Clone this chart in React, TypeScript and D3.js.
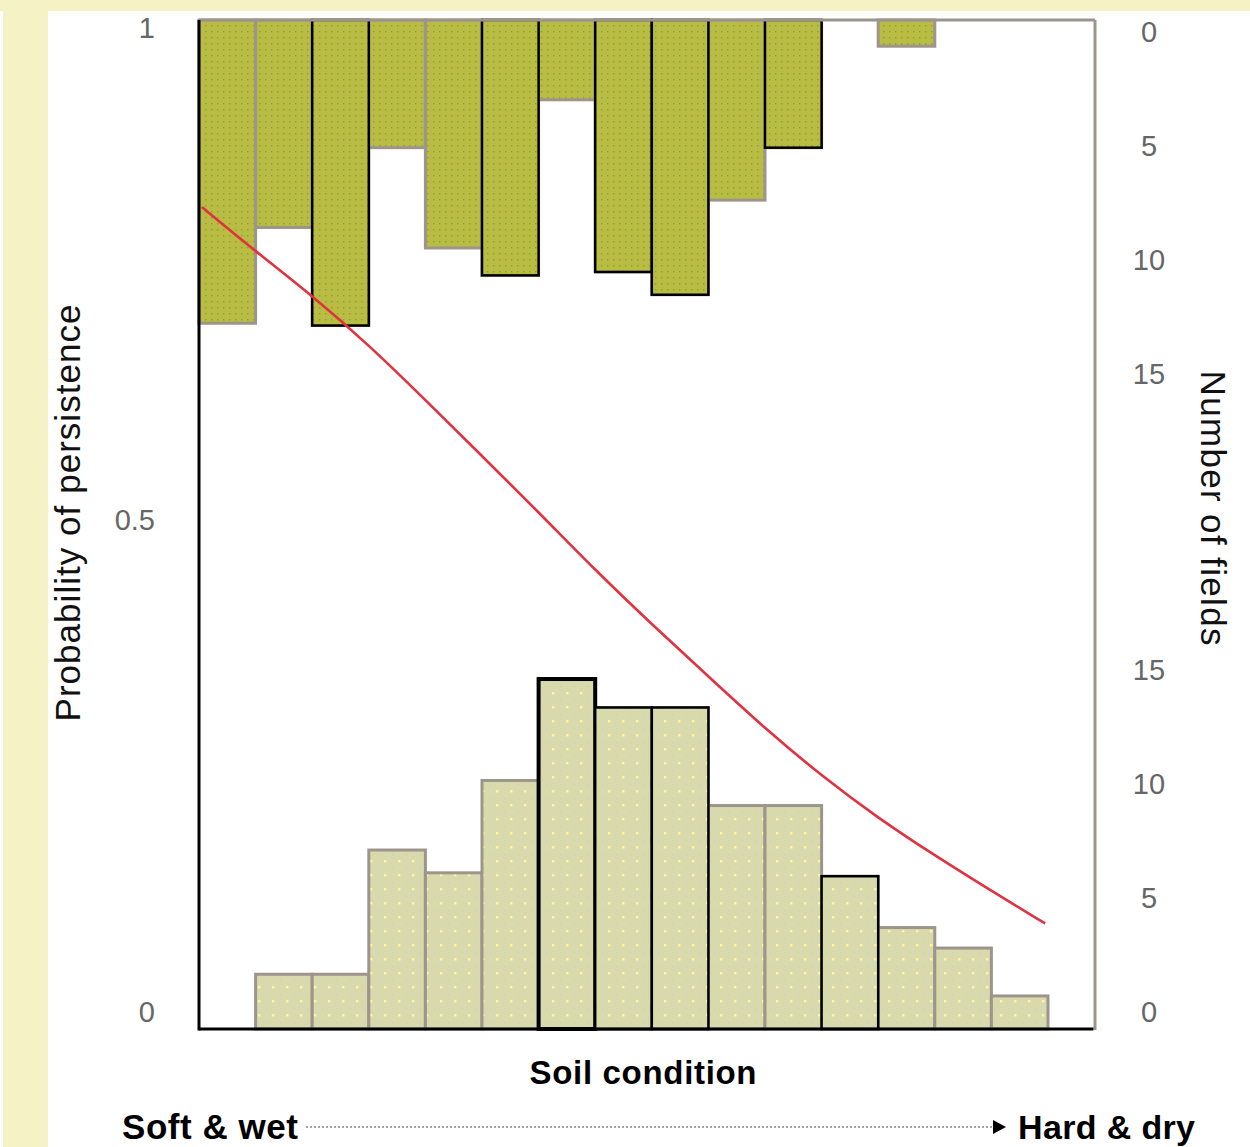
import React from "react";
import * as d3 from "d3";

// ---- data ----
const binIndex = d3.range(15);
// number of fields per soil-condition bin, hanging from top (persisting fields)
const topCounts = [13.3, 9.1, 13.4, 5.6, 10.0, 11.2, 3.5, 11.05, 12.05, 7.9, 5.6, 0, 1.15, 0, 0];
// number of fields per bin, rising from bottom (all fields)
const bottomCounts = [0, 2.4, 2.4, 7.85, 6.85, 10.9, 15.35, 14.1, 14.1, 9.8, 9.8, 6.7, 4.45, 3.55, 1.45];
// fitted probability of persistence curve
const curveX = [0.05, 1, 2, 3, 4, 5, 6, 7, 8, 9, 10, 11, 12, 13, 14, 14.95];
const curveP = [0.818, 0.773, 0.728, 0.678, 0.622, 0.565, 0.508, 0.449, 0.394, 0.341, 0.288, 0.24, 0.197, 0.159, 0.123, 0.09];
const probTicks = [0, 0.5, 1];
const probTickLabels = ["0", "0.5", "1"];
const countTicks = [0, 5, 10, 15];

// outline emphasis (style lists, kept apart from the values)
const topBlack = [2, 5, 7, 8, 10];
const bottomBlack = [7, 8, 11, 6];

const W = 1250;
const H = 1147;
const plotL = 199;
const plotR = 1095;
const plotT = 20;
const plotB = 1029;

const FONT = "'Liberation Sans', Arial, Helvetica, sans-serif";

export default function App() {
  const x = d3.scaleLinear().domain([0, 15]).range([199, 1048]);
  const yTop = d3.scaleLinear().domain([0, 20]).range([plotT, plotT + 456]);
  const yBot = d3.scaleLinear().domain([0, 20]).range([plotB, plotB - 456]);
  const yP = d3.scaleLinear().domain([0, 1]).range([1012, 28]);

  const line = d3
    .line<number>()
    .x((_, i) => x(curveX[i]))
    .y((d) => yP(d))
    .curve(d3.curveBasis);

  const gray = "#9d958b";

  const topBar = (i: number, black: boolean) => {
    const v = topCounts[i];
    if (v <= 0) return null;
    return (
      <rect
        key={"t" + i + black}
        x={x(i)}
        y={yTop(0)}
        width={x(i + 1) - x(i)}
        height={yTop(v) - yTop(0)}
        fill="url(#topPat)"
        stroke={black ? "#000" : gray}
        strokeWidth={black ? 2.5 : 3}
      />
    );
  };
  const botBar = (i: number, black: boolean) => {
    const v = bottomCounts[i];
    if (v <= 0) return null;
    return (
      <rect
        key={"b" + i + black}
        x={x(i)}
        y={yBot(v)}
        width={x(i + 1) - x(i)}
        height={yBot(0) - yBot(v)}
        fill="url(#botPat)"
        stroke={black ? "#000" : gray}
        strokeWidth={black ? (i === 6 ? 4 : 2.5) : 3}
      />
    );
  };

  return (
    <svg
      width={W}
      height={H}
      viewBox={`0 0 ${W} ${H}`}
      style={{ position: "absolute", left: 0, top: 0, display: "block" }}
    >
      <defs>
        <pattern id="topPat" width="6" height="6" patternUnits="userSpaceOnUse">
          <rect width="6" height="6" fill="#b7bd3e" />
          <rect x="1" y="1" width="1.4" height="1.4" fill="#8d9a55" />
          <rect x="4" y="4" width="1.4" height="1.4" fill="#cdb165" />
        </pattern>
        <pattern id="botPat" width="14" height="14" patternUnits="userSpaceOnUse">
          <rect width="14" height="14" fill="#d9d9ae" />
          <rect x="6" y="6" width="2.4" height="2.4" fill="#fff79a" />
          <rect x="0" y="0" width="1.2" height="1.2" fill="#c9d2a8" />
        </pattern>
      </defs>

      <rect x={0} y={0} width={W} height={H} fill="#ffffff" />
      <rect x={0} y={0} width={W} height={11} fill="#f5f3c6" />
      <rect x={3} y={0} width={45} height={H} fill="#f5f3c6" />

      {/* bars */}
      {binIndex.map((i) => topBar(i, false))}
      {binIndex.filter((i) => topBlack.includes(i)).map((i) => topBar(i, true))}
      {binIndex.map((i) => botBar(i, false))}
      {binIndex.filter((i) => bottomBlack.includes(i)).map((i) => botBar(i, true))}

      {/* frame */}
      <line x1={plotL} x2={plotR} y1={plotT} y2={plotT} stroke={gray} strokeWidth={3} />
      <line x1={plotR} x2={plotR} y1={plotT} y2={plotB + 1} stroke={gray} strokeWidth={3} />
      <line x1={plotL} x2={plotL} y1={plotT} y2={plotB + 1.5} stroke="#000" strokeWidth={3} />
      <line x1={plotL} x2={plotR - 1.5} y1={plotB} y2={plotB} stroke="#000" strokeWidth={3} />

      {/* probability curve */}
      <path d={line(curveP) || ""} fill="none" stroke="#e0323f" strokeWidth={2.6} />

      {/* left axis labels */}
      {probTicks.map((t, i) => (
        <text
          key={"p" + t}
          x={155}
          y={yP(t)}
          dy="0.35em"
          textAnchor="end"
          fontFamily={FONT}
          fontSize={29}
          fill="#666"
        >
          {probTickLabels[i]}
        </text>
      ))}
      {/* right axis labels (top) */}
      {countTicks.map((t) => (
        <text
          key={"rt" + t}
          x={1149}
          y={yTop(t) + 12}
          dy="0.35em"
          textAnchor="middle"
          fontFamily={FONT}
          fontSize={29}
          fill="#666"
        >
          {t}
        </text>
      ))}
      {/* right axis labels (bottom) */}
      {countTicks.map((t) => (
        <text
          key={"rb" + t}
          x={1149}
          y={yBot(t) - 17}
          dy="0.35em"
          textAnchor="middle"
          fontFamily={FONT}
          fontSize={29}
          fill="#666"
        >
          {t}
        </text>
      ))}

      {/* axis titles */}
      <text
        transform="translate(68,513) rotate(-90)"
        dy="0.35em"
        textAnchor="middle"
        fontFamily={FONT}
        fontSize={35}
        fill="#111"
        textLength={417}
        lengthAdjust="spacing"
      >
        Probability of persistence
      </text>
      <text
        transform="translate(1213,508) rotate(90)"
        dy="0.35em"
        textAnchor="middle"
        fontFamily={FONT}
        fontSize={35}
        fill="#111"
        textLength={275}
        lengthAdjust="spacing"
      >
        Number of fields
      </text>
      <text
        x={643}
        y={1084}
        textAnchor="middle"
        fontFamily={FONT}
        fontSize={33}
        fontWeight="bold"
        fill="#000"
        textLength={227}
        lengthAdjust="spacing"
      >
        Soil condition
      </text>

      {/* soft -> hard arrow */}
      <text
        x={122}
        y={1139}
        fontFamily={FONT}
        fontSize={35}
        fontWeight="bold"
        fill="#000"
        textLength={176}
        lengthAdjust="spacing"
      >
        Soft &amp; wet
      </text>
      <line x1={306} x2={994} y1={1127} y2={1127} stroke="#888" strokeWidth={1.5} strokeDasharray="2 2" />
      <path d="M993,1120 L1006,1127 L993,1134 Z" fill="#000" />
      <text
        x={1018}
        y={1139}
        fontFamily={FONT}
        fontSize={34}
        fontWeight="bold"
        fill="#000"
        textLength={177}
        lengthAdjust="spacing"
      >
        Hard &amp; dry
      </text>
    </svg>
  );
}
